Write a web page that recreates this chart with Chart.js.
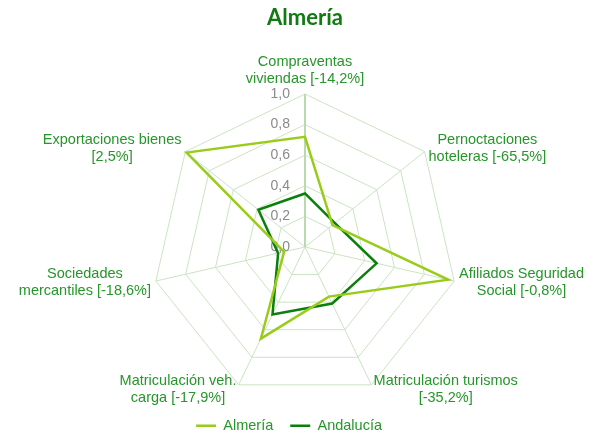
<!DOCTYPE html>
<html lang="es">
<head>
    <meta charset="UTF-8">
    <title>Almería</title>
    <script src="https://cdn.jsdelivr.net/npm/chart.js"></script>
    <style>
        body { margin: 0; background: #fff; }
        .wrap { width: 595px; height: 437px; position: relative; }
    </style>
</head>
<body>
    <div class="wrap">
        <canvas id="radarChart"></canvas>
    </div>

    <script>
        // categorias (una linea por elemento)
        const categories = [
            ['Compraventas', 'viviendas [-14,2%]'],
            ['Pernoctaciones', 'hoteleras [-65,5%]'],
            ['Afiliados Seguridad', 'Social [-0,8%]'],
            ['Matriculación turismos', '[-35,2%]'],
            ['Matriculación veh.', 'carga [-17,9%]'],
            ['Sociedades', 'mercantiles [-18,6%]'],
            ['Exportaciones bienes', '[2,5%]']
        ];
        const almeria = [0.72, 0.23, 0.96, 0.36, 0.665, 0.14, 0.99];
        const andalucia = [0.35, 0.25, 0.48, 0.41, 0.49, 0.18, 0.39];
        const tickValues = [0, 0.2, 0.4, 0.6, 0.8, 1.0];

        const textGreen = '#26962a';
        const gridGreen = '#cbe4c2';

        // ticks y etiquetas dibujadas a mano para alinearlas como en Excel
        const radarText = {
            id: 'radarText',
            afterLayout(chart) {
                // la leyenda del original no esta centrada
                chart.legend.left -= 16;
                chart.legend.right -= 16;
            },
            beforeDatasetsDraw(chart) {
                const r = chart.scales.r;
                const ctx = chart.ctx;
                ctx.save();
                ctx.font = '14px "Liberation Sans", Arial, sans-serif';
                ctx.fillStyle = '#8a8a8a';
                ctx.textAlign = 'right';
                ctx.textBaseline = 'middle';
                tickValues.forEach(v => {
                    const y = r.yCenter - r.getDistanceFromCenterForValue(v);
                    ctx.fillText(v.toFixed(1).replace('.', ','), r.xCenter - 15, y);
                });
                ctx.restore();
            },
            afterDraw(chart) {
                const r = chart.scales.r;
                const ctx = chart.ctx;
                const lineH = 17;
                ctx.save();
                ctx.font = '14.5px "Liberation Sans", Arial, sans-serif';
                ctx.fillStyle = textGreen;
                ctx.textAlign = 'center';
                ctx.textBaseline = 'middle';
                chart.data.labels.forEach((lines, i) => {
                    const angle = r.getIndexAngle(i);
                    const sin = Math.sin(angle), cos = Math.cos(angle);
                    const p = r.getPointPosition(i, r.drawingArea + 5);
                    const w = Math.max(...lines.map(t => ctx.measureText(t).width));
                    const h = lines.length * lineH;
                    let cx = p.x, cy = p.y;
                    if (sin > 0.1) cx = p.x + w / 2;
                    else if (sin < -0.1) cx = p.x - w / 2;
                    if (cos > 0.9) cy = p.y - h / 2 - 2;
                    lines.forEach((t, k) => {
                        ctx.fillText(t, cx, cy - h / 2 + lineH * (k + 0.5));
                    });
                });
                ctx.restore();
            }
        };

        const ctx = document.getElementById('radarChart').getContext('2d');
        new Chart(ctx, {
            type: 'radar',
            data: {
                labels: categories,
                datasets: [{
                    label: 'Almería',
                    data: almeria,
                    borderColor: '#99cc1a',
                    backgroundColor: '#99cc1a',
                    borderWidth: 2.5,
                    fill: false,
                    pointRadius: 0
                }, {
                    label: 'Andalucía',
                    data: andalucia,
                    borderColor: '#0b7f0b',
                    backgroundColor: '#0b7f0b',
                    borderWidth: 2.5,
                    fill: false,
                    pointRadius: 0
                }]
            },
            options: {
                responsive: true,
                maintainAspectRatio: false,
                animation: false,
                layout: {
                    padding: { left: 15, right: 0, top: 0, bottom: -6 }
                },
                plugins: {
                    title: {
                        display: true,
                        text: 'Almería',
                        color: '#117a11',
                        font: { family: 'Lato', size: 22, weight: 'bold' },
                        padding: { top: 5, bottom: 63 }
                    },
                    legend: {
                        position: 'bottom',
                        labels: {
                            usePointStyle: true,
                            pointStyle: 'line',
                            pointStyleWidth: 20,
                            padding: 17,
                            color: textGreen,
                            font: { family: '"Liberation Sans", Arial, sans-serif', size: 14.5 }
                        }
                    },
                    tooltip: { enabled: false }
                },
                scales: {
                    r: {
                        min: 0,
                        max: 1,
                        ticks: { stepSize: 0.2, display: false },
                        pointLabels: { display: false },
                        grid: { color: gridGreen, lineWidth: 1 },
                        angleLines: {
                            color: c => c.index === 0 ? '#b9d9ae' : gridGreen,
                            lineWidth: c => c.index === 0 ? 2 : 1
                        }
                    }
                }
            },
            plugins: [radarText]
        });
    </script>
</body>
</html>
